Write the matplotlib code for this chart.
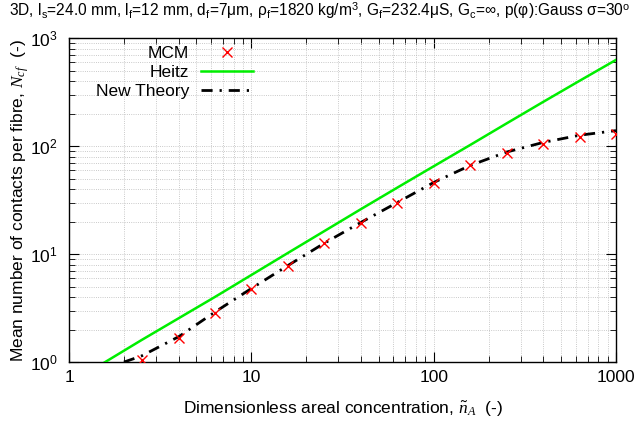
import matplotlib
matplotlib.use("Agg")
import matplotlib.pyplot as plt

plt.rcParams['font.family'] = ['Liberation Sans', 'DejaVu Sans']
plt.rcParams['mathtext.fontset'] = 'custom'
plt.rcParams['mathtext.rm'] = 'Liberation Sans'
plt.rcParams['mathtext.sf'] = 'Liberation Sans'
plt.rcParams['mathtext.it'] = 'Liberation Serif:italic'

# MCM simulation points
mcm_x = [2.5, 4.0, 6.3, 10, 15.8, 25.1, 39.8, 63.1, 100, 158, 251, 398, 631, 1000]
mcm_y = [1.04, 1.67, 2.83, 4.72, 7.7, 12.6, 19.2, 29.4, 45.9, 67.3, 86.9, 105, 122, 130]

# Heitz prediction
heitz_x = [1.5, 2.5, 4.0, 6.3, 10, 15.8, 25.1, 39.8, 63.1, 100, 158, 251, 398, 631, 1000]
heitz_y = [0.95, 1.6, 2.55, 4.0, 6.4, 10.2, 16.3, 26, 41.2, 65, 102, 162, 256, 402, 628]

# new theory curve
theory_x = [2.0, 2.5, 4.0, 6.3, 10, 15.8, 25.1, 39.8, 63.1, 100, 158, 251, 398, 631, 1000]
theory_y = [1.0, 1.14, 1.72, 2.9, 4.8, 7.8, 12.6, 19.6, 30, 46, 66, 88, 108, 126, 139]

fig = plt.figure(figsize=(6.39, 4.23), dpi=100)
ax = fig.add_axes([0.108, 0.144, 0.856, 0.766])

ax.plot(mcm_x, mcm_y, 'x', color='red', ms=7, mew=1.0, label='MCM', zorder=4)
ax.plot(heitz_x, heitz_y, '-', color='#00ee00', lw=1.8, label='Heitz', zorder=3)
ax.plot(theory_x, theory_y, color='black', lw=2, linestyle=(0, (4, 2.5, 0.8, 2.5)),
        label='New Theory', zorder=3)

ax.set_xscale('log')
ax.set_yscale('log')
ax.set_xlim(1, 1000)
ax.set_ylim(1, 1000)
ax.set_xticks([1, 10, 100, 1000])
ax.set_xticklabels(['1', '10', '100', '1000'])

ax.grid(True, which='both', linestyle=':', color='#b8b8b8', lw=0.6)
ax.tick_params(which='both', direction='in', top=True, right=True, labelsize=12.5)
ax.tick_params(which='major', length=7, pad=6)
ax.tick_params(which='minor', length=4)
ax.tick_params(axis='y', pad=8)
for s in ax.spines.values():
    s.set_linewidth(1.0)

ax.set_xlabel(r'Dimensionless areal concentration, $\tilde{n}_A$  (-)', fontsize=12.5, labelpad=10)
ax.set_ylabel(r'Mean number of contacts per fibre, $N_{cf}$  (-)', fontsize=12.5, labelpad=-1)

title = (r'3D, l$_\mathrm{s}$=24.0 mm, l$_\mathrm{f}$=12 mm, d$_\mathrm{f}$=7μm, '
         r'ρ$_\mathrm{f}$=1820 kg/m$^\mathrm{3}$, G$_\mathrm{f}$=232.4μS, G$_\mathrm{c}$=∞, '
         r'p(φ):Gauss σ=30$^\mathrm{o}$')
fig.text(0.5, 0.975, title, ha='center', va='center', fontsize=11.2)

leg = ax.legend(loc='upper left', frameon=False, markerfirst=False, fontsize=12.5,
                handlelength=3.0, labelspacing=0.22, bbox_to_anchor=(0.02, 1.025),
                handletextpad=0.7)
# right-align the labels like gnuplot does
leg._legend_handle_box.get_children()[0].align = 'right'

fig.savefig('out.png', dpi=100)
